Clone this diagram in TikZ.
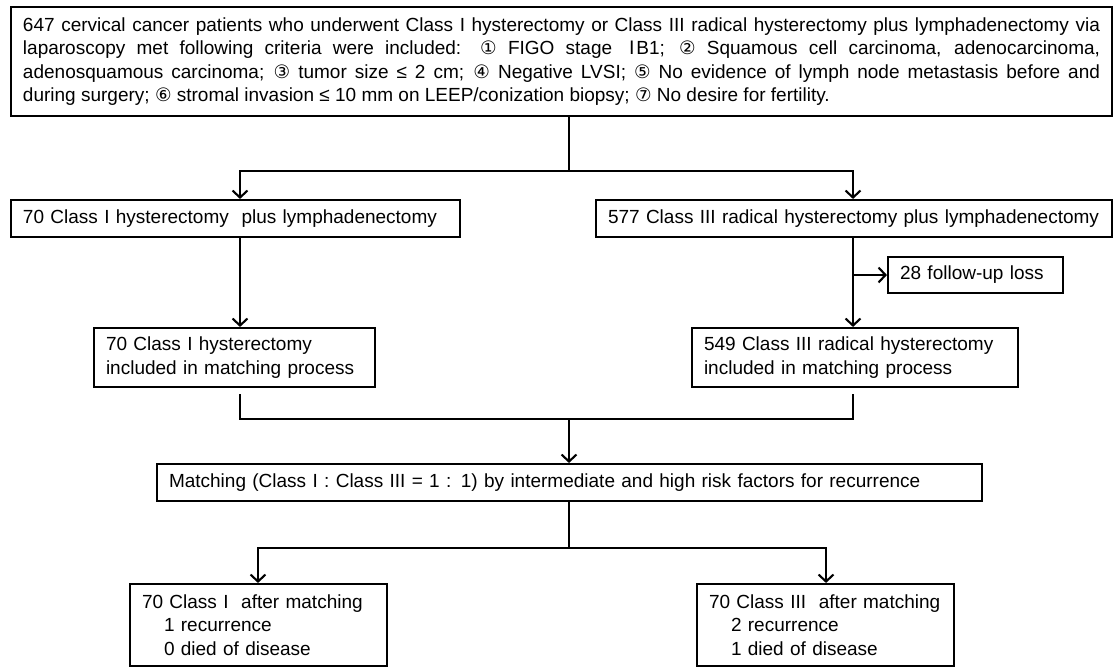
\documentclass[tikz,border=0pt]{standalone}
\usepackage{fontspec}
\setmainfont{Liberation Sans}
\newfontfamily\symfont{DejaVu Sans}
\usepackage{tikz}
\usetikzlibrary{calc,positioning,arrows.meta}
\newcommand{\cn}[1]{{\symfont\fontsize{18.5}{18.5}\selectfont #1}}

\begin{document}
\begin{tikzpicture}[x=1pt,y=-1pt,
  box/.style={draw,line width=2.1pt,inner xsep=12pt,inner ysep=0pt,align=left,
    font=\fontsize{19}{23.5}\selectfont},
  line/.style={line width=2.1pt},
  arr/.style={line,-{Straight Barb[length=7pt,width=15pt,line width=2.1pt]}}]
\useasboundingbox (0,0) rectangle (1118,667);

\node[box,align=justify,text width=1077pt,minimum height=109pt] (all) at (561.5,61.5)
  {647 cervical cancer patients who underwent Class I hysterectomy or Class III radical hysterectomy plus lymphadenectomy via\linebreak
   laparoscopy met following criteria were included: \cn{①} FIGO stage \hspace{0.3em}\cn{Ⅰ}\hspace{0.1em}B1; \cn{②} Squamous cell carcinoma, adenocarcinoma,\linebreak
   adenosquamous carcinoma; \cn{③} tumor size ≤ 2 cm; \cn{④} Negative LVSI; \cn{⑤} No evidence of lymph node metastasis before and\linebreak
   during surgery; \cn{⑥} stromal invasion ≤ 10 mm on LEEP/conization biopsy; \cn{⑦} No desire for fertility.};

\node[box,text width=425pt,minimum height=37pt] (ci) at (235.5,218.5) {70 Class I hysterectomy\ \ plus lymphadenectomy};
\node[box,text width=492pt,minimum height=37pt] (ciii) at (854,218.5) {577 Class III radical hysterectomy plus lymphadenectomy};
\node[box,text width=151pt,minimum height=36pt] (loss) at (975.5,275) {28 follow-up loss};
\node[box,text width=257pt,minimum height=59pt] (mi) at (234.5,357.5) {70 Class I hysterectomy\\included in matching process};
\node[box,text width=302pt,minimum height=59pt] (miii) at (855,357.5) {549 Class III radical hysterectomy\\included in matching process};
\node[box,text width=801pt,minimum height=37pt] (match) at (569.5,482.5)
  {Matching (Class I : Class III = 1 : 1) by intermediate and high risk factors for recurrence};
\node[box,text width=233pt,minimum height=82pt] (ri) at (258.5,625)
  {70 Class I\ \ after matching\\\hspace*{22pt}1 recurrence\\\hspace*{22pt}0 died of disease};
\node[box,text width=233pt,minimum height=82pt] (riii) at (825.5,625)
  {70 Class III\ \ after matching\\\hspace*{22pt}2 recurrence\\\hspace*{22pt}1 died of disease};

% split points
\coordinate (j1) at (569,171);
\coordinate (j1l) at (240,171);
\coordinate (j1r) at (853,171);
\coordinate (k) at (853,275);
\coordinate (j2) at (569,419);
\coordinate (j3) at (569,548);
\coordinate (j3l) at (258,548);
\coordinate (j3r) at (826,548);

\draw[line] (all.south -| j1) -- (j1);
\draw[arr] (j1) -| (j1l |- ci.north);
\draw[arr] (j1) -| (j1r |- ciii.north);
\draw[arr] (ci.south -| j1l) -- (mi.north -| j1l);
\draw[arr] (ciii.south -| j1r) -- (miii.north -| j1r);
\draw[arr] (k) -- (loss.west);

%\draw[line] (mi.south) -- (miii.south);
\draw[line,shorten <=6pt,shorten >=6pt] (mi.south -| j1l) |- (j2 -| j1r) -- (miii.south -| j1r);
\draw[arr] (j2) -- (match.north -| j2);

\draw[line] (match.south -| j3) -- (j3);
\draw[arr] (j3) -| (j3l |- ri.north);
\draw[arr] (j3) -| (j3r |- riii.north);
\end{tikzpicture}
\end{document}
